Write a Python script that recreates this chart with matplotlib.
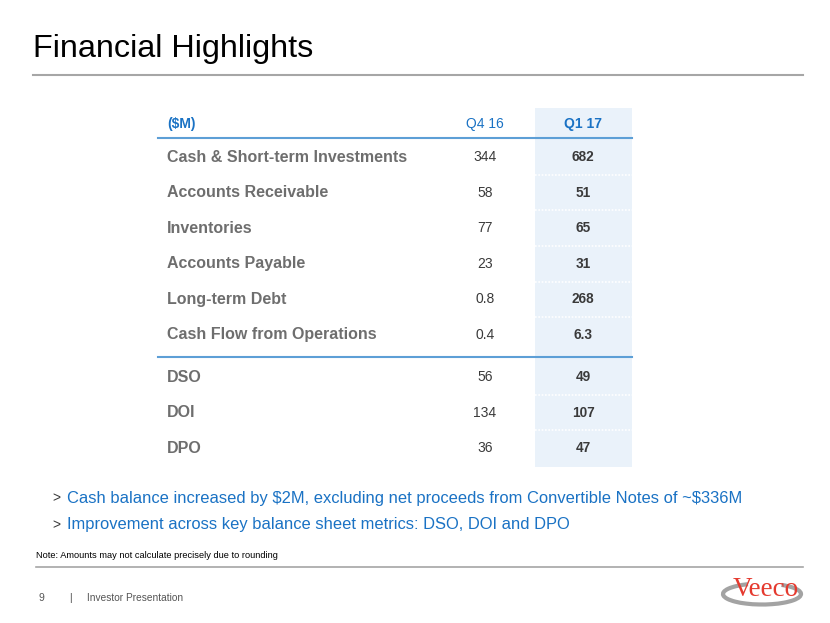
import matplotlib.pyplot as plt
from matplotlib.patches import Rectangle, Arc

plt.rcParams['font.family'] = ['Liberation Sans', 'DejaVu Sans']

# table data
col_header = "($M)"
periods = ["Q4 16", "Q1 17"]
balance_items = ["Cash & Short-term Investments", "Accounts Receivable", "Inventories",
                 "Accounts Payable", "Long-term Debt", "Cash Flow from Operations"]
balance_q4 = ["344", "58", "77", "23", "0.8", "0.4"]
balance_q1 = ["682", "51", "65", "31", "268", "6.3"]
ratio_items = ["DSO", "DOI", "DPO"]
ratio_q4 = ["56", "134", "36"]
ratio_q1 = ["49", "107", "47"]

bullets = [r"Cash balance increased by \$2M, excluding net proceeds from Convertible Notes of ~\$336M",
           "Improvement across key balance sheet metrics: DSO, DOI and DPO"]
note = "Note: Amounts may not calculate precisely due to rounding"
page_no = "9"
footer = "Investor Presentation"

BLUE = "#1a72c4"
LINE_BLUE = "#5d9fd6"
GRAY = "#6e6e6e"
DARK = "#3a3a3a"
SHADE = "#eaf2fa"

fig = plt.figure(figsize=(8.3, 6.23), dpi=100)
ax = fig.add_axes([0, 0, 1, 1])
ax.set_xlim(0, 830)
ax.set_ylim(623, 0)
ax.axis("off")

# title
ax.text(33, 49, "Financial Highlights", fontsize=23.3, color="black", va="center", ha="left")
ax.plot([33, 803], [75, 75], color="#a6a6a6", lw=1.5)

# table layout
x_left, x_right = 158, 632
x_label, x_q4, x_q1 = 167, 485, 583
shade_x0 = 535
header_y = 124
pitch = 35.6
first_row = 157
ratio_first = 377
line1_y = 138
line2_y = 357

ax.add_patch(Rectangle((shade_x0, 108), x_right - shade_x0, 467 - 108,
                       facecolor=SHADE, edgecolor="none", zorder=0))

ax.text(x_label, header_y, col_header, fontsize=10, color=BLUE, fontweight="bold", va="center")
ax.text(x_q4, header_y, periods[0], fontsize=10, color=BLUE, va="center", ha="center")
ax.text(x_q1, header_y, periods[1], fontsize=10, color=BLUE, fontweight="bold", va="center", ha="center")
ax.plot([x_left, x_right], [line1_y, line1_y], color=LINE_BLUE, lw=1.5, zorder=3)
ax.plot([x_left, x_right], [line2_y, line2_y], color=LINE_BLUE, lw=1.5, zorder=3)


def draw_block(items, q4, q1, y0):
    for i, (name, a, b) in enumerate(zip(items, q4, q1)):
        y = y0 + i * pitch
        ax.text(x_label, y, name, fontsize=11.5, color=GRAY, fontweight="bold", va="center")
        ax.text(x_q4, y, a, fontsize=10, color=DARK, va="center", ha="center")
        ax.text(x_q1, y, b, fontsize=9.8, color=DARK, fontweight="bold", va="center", ha="center")
        if i < len(items) - 1:
            ys = y + pitch / 2
            ax.plot([shade_x0, x_right], [ys, ys], color="white", lw=1.2, ls=(0, (1, 1)), zorder=1)


draw_block(balance_items, balance_q4, balance_q1, first_row)
draw_block(ratio_items, ratio_q4, ratio_q1, ratio_first)

# bullets
for i, txt in enumerate(bullets):
    y = 498 + i * 27
    ax.text(52, y, ">", fontsize=10, color=DARK, va="center")
    ax.text(67, y, txt, fontsize=11.9, color=BLUE, va="center")

# note and footer
ax.text(36, 556, note, fontsize=6.7, color="black", va="center")
ax.plot([36, 803], [567, 567], color="#a6a6a6", lw=1.2)
ax.text(38, 598, page_no, fontsize=7.5, color="#555555", va="center")
ax.text(69, 598, "|", fontsize=7.5, color="#555555", va="center")
ax.text(87, 598, footer, fontsize=7.3, color="#555555", va="center")

# logo
ax.add_patch(Arc((762, 594), 78, 21, theta1=-25, theta2=215, color="#a3a3a3", lw=3))
ax.text(766, 590, "Veeco", fontsize=19.5, color="#e53a2f", family="Liberation Serif",
        va="center", ha="center")

fig.savefig("out.png", dpi=100)
